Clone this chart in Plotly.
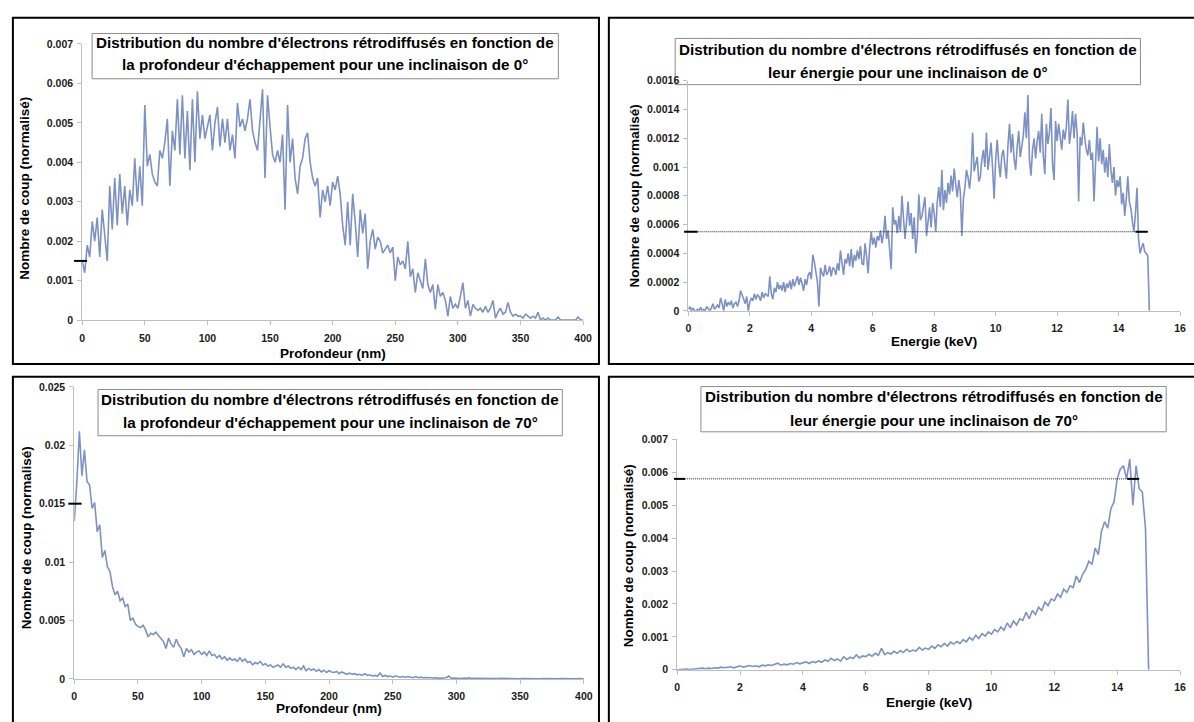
import numpy as np
import plotly.graph_objects as go

W, H = 1194, 722
FONT = "Liberation Sans, Arial, sans-serif"
LINE_COLOR = "#7d91c3"
AXIS_COLOR = "#bfbfbf"

# ---------------- DATA ----------------
# Panel 1 : depth distribution, tilt 0 deg  (x step 2 nm, values in 1e-3)
depth_step_nm = 2
depth0_milli = [
    1.5, 1.2, 1.9, 1.6, 2.5, 2.0, 2.6, 1.6, 2.8, 2.1,
    1.5, 3.4, 2.3, 3.6, 2.4, 3.7, 2.7, 3.4, 2.4, 3.3,
    2.9, 4.1, 3.0, 3.9, 2.9, 5.45, 3.9, 4.2, 3.7, 3.5,
    3.4, 4.3, 4.1, 4.5, 5.1, 3.4, 4.8, 4.3, 5.6, 4.2,
    5.7, 4.1, 5.3, 3.8, 5.6, 4.0, 5.8, 4.6, 5.2, 4.6,
    4.9, 5.2, 4.3, 5.0, 5.4, 4.4, 5.1, 4.5, 5.1, 4.3,
    4.7, 4.1, 5.5, 4.9, 5.1, 4.8, 5.1, 5.6, 4.8, 4.5,
    4.3, 5.0, 5.85, 3.6, 5.7, 4.9, 4.2, 4.0, 4.3, 4.0,
    4.7, 2.8, 5.45, 4.0, 4.6, 3.6, 3.2, 3.9, 4.1, 4.6,
    4.75, 4.0, 3.6, 3.4, 3.6, 2.6, 3.3, 3.0, 3.4, 2.9,
    3.5, 3.3, 3.65, 3.2, 2.4,
    1.9, 3.0, 1.9, 3.2, 2.5, 1.6, 2.8, 2.2, 2.7, 1.3,
    2.0, 2.3, 1.8, 2.1, 2.0, 1.7, 1.8, 1.9, 1.7, 1.85,
    1.0, 1.6, 1.4, 1.5, 1.3, 2.0, 1.1, 1.3, 0.7, 1.2,
    1.0, 0.8, 1.55, 0.9, 0.7, 0.9, 0.27, 0.9, 0.6, 0.7,
    0.5, 0.1, 0.6, 0.3, 0.4, 0.3, 0.6, 0.95, 0.3, 0.5,
    0.1, 0.4, 0.3, 0.25, 0.3, 0.2, 0.35, 0.2, 0.3, 0.5,
    0.05, 0.2, 0.3, 0.15, 0.2, 0.45, 0.2, 0.1, 0.15, 0.1,
    0.1, 0.05, 0.15, 0.1, 0.05, 0.1, 0.05, 0.2, 0.0, 0.05,
    0.0, 0.05, 0.0, 0.0, 0.0, 0.08, 0.0, 0.0, 0.0, 0.0,
    0.0, 0.0, 0.0, 0.08, 0.0, 0.0,
]

# Panel 3 : depth distribution, tilt 70 deg (x step 2 nm, values in 1e-3)
depth70_milli = [
    13.5, 16.8, 21.2, 17.4, 19.6, 16.9, 16.6, 14.6, 15.1, 12.6,
    13.2, 10.4, 11.0, 9.6, 9.2, 7.9, 7.2, 7.5, 6.7, 6.9,
    6.2, 6.4, 5.0, 5.2, 4.7, 4.5, 4.4, 4.6, 4.2, 3.6,
    3.9, 3.8, 4.0, 3.7, 3.4, 3.2, 2.6, 3.5, 3.0, 2.7,
    3.4, 2.9, 2.6, 1.9, 2.6, 2.3, 2.5, 2.1, 2.3, 2.4,
    2.1, 2.3, 2.0, 2.4, 2.0, 2.1, 1.8, 2.0, 1.7, 1.9,
    1.6, 1.8, 1.6, 1.7, 1.5, 1.8, 1.5, 1.7, 1.4, 1.5,
    1.2, 1.4, 1.3, 1.5, 1.2, 1.3, 1.1, 1.2, 1.0, 1.1,
    1.2, 1.0, 1.3, 1.0, 1.1, 0.9, 1.0, 0.8, 1.0, 0.8,
    1.1, 0.7, 0.9, 0.75, 0.85, 0.65, 0.8, 0.6, 0.75, 0.55,
    0.7, 0.6, 0.55, 0.65, 0.45, 0.6, 0.5, 0.4, 0.5, 0.4,
    0.45, 0.35, 0.4, 0.3, 0.45, 0.3, 0.35, 0.25, 0.3, 0.25,
    0.5, 0.2, 0.3, 0.2, 0.25, 0.15, 0.25, 0.2, 0.15, 0.2,
    0.15, 0.2, 0.15, 0.1, 0.2, 0.1, 0.15, 0.1, 0.12, 0.08,
    0.1, 0.08, 0.1, 0.05, 0.08, 0.05, 0.1, 0.25, 0.05, 0.08,
    0.05, 0.06, 0.04, 0.08, 0.05, 0.1, 0.04, 0.06, 0.05, 0.04,
    0.05, 0.04, 0.06, 0.03, 0.05, 0.04, 0.03, 0.05, 0.04, 0.03,
    0.04, 0.03, 0.05, 0.03, 0.04, 0.02, 0.04, 0.03, 0.02, 0.03,
    0.03, 0.02, 0.04, 0.02, 0.03, 0.02, 0.03, 0.02, 0.02, 0.03,
    0.02, 0.03, 0.02, 0.02, 0.03, 0.02, 0.02, 0.02, 0.03, 0.02, 0.02,
]

# Panel 2 : energy distribution, tilt 0 deg (step 0.05 keV, values in 1e-4)
energy0_step_kev = 0.05
energy0_e4 = [
    0.1, 0.3, 0.0, 0.2, 0.0, 0.0, 0.1, 0.0, 0.25, 0.0, 0.1, 0.0, 0.3, 0.1, 0.0, 0.2, 0.5, 0.1, 0.3, 0.4,
    0.2, 0.9, 0.5, 0.0, 0.8, 0.3, 0.6, 0.4, 0.7, 0.2, 0.5, 0.6, 0.3, 0.7, 1.4, 1.0, 0.8, 0.5, 1.0, 0.0,
    0.6, 0.9, 0.7, 1.2, 0.8, 1.1, 1.0, 0.7, 1.3, 0.9, 1.2, 1.1, 1.0, 2.4, 1.2, 0.8, 1.6, 1.3, 2.0, 1.5,
    1.8, 1.4, 2.0, 1.3, 1.9, 1.6, 2.1, 1.5, 2.2, 1.7, 2.0, 2.4, 1.8, 2.3, 1.9, 1.4, 2.2, 1.8, 2.5, 2.7,
    2.2, 3.9, 3.4, 2.8, 2.0, 0.3, 3.0, 2.6, 2.4, 3.2, 2.5, 2.7, 3.1, 2.4, 3.0, 2.9, 2.5, 3.3, 2.8, 4.2,
    3.4, 2.5, 3.6, 3.3, 4.0, 3.1, 4.3, 3.0, 3.9, 3.5, 4.2, 3.6, 4.5, 3.3, 3.2, 4.7, 3.8, 2.6, 4.4, 5.5,
    4.6, 5.1, 4.4, 5.2, 4.9, 5.6, 4.7, 5.3, 6.6, 5.0, 5.6, 4.4, 2.9, 7.2, 6.0, 6.3, 5.4, 6.6, 5.5, 8.0,
    6.4, 5.0, 6.2, 7.6, 5.9, 6.8, 5.0, 6.5, 4.0, 5.2, 8.1, 6.3, 6.6, 7.2, 7.9, 5.2, 6.4, 7.2, 5.8, 7.5,
    6.8, 5.5, 7.6, 8.6, 7.2, 9.8, 7.0, 8.4, 7.5, 8.9, 8.1, 9.4, 8.3, 9.9, 8.8, 7.9, 9.1, 8.3, 5.2, 7.8,
    8.6, 9.8, 9.3, 8.5, 9.6, 12.4, 9.7, 10.2, 10.7, 9.0, 9.3, 10.5, 11.2, 10.0, 12.4, 9.8, 10.6, 11.7, 9.9, 7.8,
    10.5, 11.9, 10.3, 9.3, 10.8, 11.2, 10.1, 9.2, 11.5, 13.0, 11.0, 12.3, 10.6, 9.8, 11.4, 12.5, 10.7, 11.6, 12.2, 13.8,
    12.0, 15.0, 10.5, 9.4, 11.2, 12.0, 10.6, 11.8, 12.5, 11.0, 13.7, 10.8, 9.5, 13.0, 11.6, 12.4, 14.1, 10.2, 9.1, 13.2,
    11.8, 13.0, 12.2, 11.2, 12.6, 11.9, 12.8, 14.7, 11.6, 12.5, 13.9, 12.0, 13.7, 12.4, 7.6, 12.1, 11.5, 13.1, 12.0, 11.2,
    10.8, 11.9, 10.5, 11.0, 7.6, 9.8, 12.8, 10.4, 12.0, 10.2, 11.2, 9.6, 10.7, 9.3, 11.6, 9.8, 8.9, 10.0, 8.0, 9.1,
    8.6, 9.35, 7.4, 8.2, 6.6, 7.8, 9.35, 7.6, 7.1, 6.2, 5.5, 6.8, 8.55, 5.0, 4.0, 4.4, 4.7, 4.1, 4.0, 3.8,
    0.0,
]

# Panel 4 : energy distribution, tilt 70 deg (step 0.1 keV, values in 1e-3)
energy70_step_kev = 0.1
energy70_milli = [
    0.0, 0.01, 0.0, 0.02, 0.01, 0.02, 0.01, 0.03, 0.05, 0.03,
    0.05, 0.04, 0.06, 0.05, 0.08, 0.06, 0.07, 0.09, 0.06, 0.1,
    0.12, 0.08, 0.1, 0.13, 0.1, 0.12, 0.09, 0.14, 0.12, 0.15,
    0.13, 0.16, 0.2, 0.14, 0.17, 0.15, 0.19, 0.17, 0.22, 0.18,
    0.2, 0.24, 0.19, 0.25, 0.22, 0.27, 0.23, 0.3, 0.26, 0.35,
    0.28, 0.33, 0.26, 0.4, 0.31, 0.38, 0.34, 0.45, 0.36, 0.42,
    0.4, 0.47, 0.41, 0.5, 0.44, 0.65, 0.46, 0.52, 0.48, 0.56,
    0.5, 0.58, 0.53, 0.62, 0.55, 0.6, 0.57, 0.68, 0.6, 0.66,
    0.62, 0.72, 0.65, 0.76, 0.7, 0.8, 0.72, 0.84, 0.78, 0.86,
    0.8, 0.92, 0.85, 0.98, 0.9, 1.05, 0.95, 1.1, 1.02, 1.15,
    1.08, 1.22, 1.15, 1.3, 1.2, 1.42, 1.28, 1.48, 1.36, 1.55,
    1.5, 1.75, 1.55, 1.8, 1.68, 1.9, 1.8, 2.05, 1.95, 2.15,
    2.1, 2.3, 2.2, 2.45, 2.35, 2.55, 2.5, 2.85, 2.65, 2.9,
    3.05, 3.3, 3.2, 3.7, 3.5, 4.2, 4.5, 4.3, 4.9, 5.1,
    5.8, 6.1, 6.2, 5.8, 6.4, 5.0, 6.2, 5.5, 5.4, 4.3,
    0.0,
]

# reference levels marked on the charts
p1_mark_level = 0.0015
p3_mark_level = 0.015
p2_level = 0.00055
p4_level = 0.0058
p2_level_end_kev = 14.95
p4_level_end_kev = 14.7

# ticks
depth_ticks = [0, 50, 100, 150, 200, 250, 300, 350, 400]
energy_ticks = [0, 2, 4, 6, 8, 10, 12, 14, 16]
p1_yticks = [0, 0.001, 0.002, 0.003, 0.004, 0.005, 0.006, 0.007]
p1_ylabels = ["0", "0.001", "0.002", "0.003", "0.004", "0.005", "0.006", "0.007"]
p2_yticks = [0, 0.0002, 0.0004, 0.0006, 0.0008, 0.001, 0.0012, 0.0014, 0.0016]
p2_ylabels = ["0", "0.0002", "0.0004", "0.0006", "0.0008", "0.001", "0.0012", "0.0014", "0.0016"]
p3_yticks = [0, 0.005, 0.01, 0.015, 0.02, 0.025]
p3_ylabels = ["0", "0.005", "0.01", "0.015", "0.02", "0.025"]
p4_yticks = p1_yticks
p4_ylabels = p1_ylabels

titles = [
    ("Distribution du nombre d'électrons rétrodiffusés en fonction de",
     "la profondeur d'échappement pour une inclinaison de 0°"),
    ("Distribution du nombre d'électrons rétrodiffusés en fonction de",
     "leur énergie pour une inclinaison de 0°"),
    ("Distribution du nombre d'électrons rétrodiffusés en fonction de",
     "la profondeur d'échappement pour une inclinaison de 70°"),
    ("Distribution du nombre d'électrons rétrodiffusés en fonction de",
     "leur énergie pour une inclinaison de 70°"),
]
xtitles = ["Profondeur (nm)", "Energie (keV)", "Profondeur (nm)", "Energie (keV)"]
ytitle = "Nombre de coup (normalisé)"

assert len(depth0_milli) == 201, len(depth0_milli)
assert len(depth70_milli) == 201, len(depth70_milli)
assert len(energy0_e4) == 301, len(energy0_e4)
assert len(energy70_milli) == 151, len(energy70_milli)

depth_x = np.arange(len(depth0_milli)) * depth_step_nm
depth70_x = np.arange(len(depth70_milli)) * depth_step_nm
e0_x = np.round(np.arange(len(energy0_e4)) * energy0_step_kev, 3)
e70_x = np.round(np.arange(len(energy70_milli)) * energy70_step_kev, 3)
y1 = np.array(depth0_milli) * 1e-3
y3 = np.array(depth70_milli) * 1e-3
y2 = np.array(energy0_e4) * 1e-4
y4 = np.array(energy70_milli) * 1e-3

# ---------------- LAYOUT GEOMETRY (pixels) ----------------
def dx(a, b):
    return [a / W, b / W]

def dy(top, bottom):
    return [1 - bottom / H, 1 - top / H]

panels = [
    dict(xd=(80, 586), yd=(38.6, 319.4), xr=[0, 400], yr=[0, 0.007],
         yt=p1_yticks, yl=p1_ylabels, xt=depth_ticks, xso=4),
    dict(xd=(692.3, 1189), yd=(76, 310), xr=[0, 16], yr=[0, 0.0016],
         yt=p2_yticks, yl=p2_ylabels, xt=energy_ticks, xso=4),
    dict(xd=(72, 586.7), yd=(387.3, 684.3), xr=[0, 400], yr=[0, 0.025],
         yt=p3_yticks, yl=p3_ylabels, xt=depth_ticks, xso=3),
    dict(xd=(681, 1189), yd=(440.7, 675), xr=[0, 16], yr=[0, 0.007],
         yt=p4_yticks, yl=p4_ylabels, xt=energy_ticks, xso=4),
]

fig = go.Figure()
series = [(depth_x, y1), (e0_x, y2), (depth70_x, y3), (e70_x, y4)]
for i, (xs, ys) in enumerate(series):
    sfx = "" if i == 0 else str(i + 1)
    fig.add_trace(go.Scatter(x=xs, y=ys, mode="lines",
                             line=dict(color=LINE_COLOR, width=1.6),
                             xaxis="x" + sfx, yaxis="y" + sfx,
                             showlegend=False, hoverinfo="x+y"))

tickfont = dict(family=FONT, size=10.5, color="#1a1a1a", weight="bold")
layout = dict(width=W, height=H, margin=dict(l=0, r=0, t=0, b=0),
              paper_bgcolor="white", plot_bgcolor="rgba(0,0,0,0)", showlegend=False)
for i, p in enumerate(panels):
    sfx = "" if i == 0 else str(i + 1)
    layout["xaxis" + sfx] = dict(
        domain=dx(*p["xd"]), range=p["xr"], anchor="y" + sfx,
        tickvals=p["xt"], ticktext=[str(v) for v in p["xt"]],
        showline=True, linecolor=AXIS_COLOR, linewidth=1,
        ticks="outside", ticklen=4, tickcolor=AXIS_COLOR,
        showgrid=False, zeroline=False, tickfont=tickfont,
        ticklabelstandoff=p["xso"])
    layout["yaxis" + sfx] = dict(
        domain=dy(*p["yd"]), range=p["yr"], anchor="x" + sfx,
        tickvals=p["yt"], ticktext=p["yl"],
        showline=True, linecolor=AXIS_COLOR, linewidth=1,
        ticks="outside", ticklen=4, tickcolor=AXIS_COLOR,
        showgrid=False, zeroline=False, tickfont=tickfont,
        ticklabelstandoff=2)
fig.update_layout(**layout)

def px_x(v):
    return v / W

def px_y(v):
    return 1 - v / H

def data_to_paper(i, xv, yv):
    p = panels[i]
    (xa, xb), (yt, yb) = p["xd"], p["yd"]
    px = xa + (xv - p["xr"][0]) / (p["xr"][1] - p["xr"][0]) * (xb - xa)
    py = yb - (yv - p["yr"][0]) / (p["yr"][1] - p["yr"][0]) * (yb - yt)
    return px_x(px), px_y(py)

shapes = []
# title boxes (below traces and tick labels)
title_boxes = [(90, 28, 561, 74), (679, 33, 1149, 80), (96, 390, 565, 437), (705, 387, 1175, 433)]
for (x0, y0, x1, y1b) in title_boxes:
    shapes.append(dict(type="rect", xref="paper", yref="paper",
                       x0=px_x(x0), x1=px_x(x1), y0=px_y(y0), y1=px_y(y1b),
                       line=dict(color="#8c8c8c", width=1), fillcolor="white",
                       layer="below"))
# outer chart borders
for (x0, y0, x1, y1b) in [(10, 12, 602, 364), (612, 12, 1205, 364),
                          (10, 377, 602, 735), (612, 377, 1205, 735)]:
    shapes.append(dict(type="rect", xref="paper", yref="paper",
                       x0=px_x(x0), x1=px_x(x1), y0=px_y(y0), y1=px_y(y1b),
                       line=dict(color="black", width=2), fillcolor="rgba(0,0,0,0)",
                       layer="above"))
# dotted reference lines
shapes.append(dict(type="line", xref="x2", yref="y2", x0=0, x1=p2_level_end_kev,
                   y0=p2_level, y1=p2_level, line=dict(color="#222222", width=1, dash="1px,1px"),
                   layer="above"))
shapes.append(dict(type="line", xref="x4", yref="y4", x0=0, x1=p4_level_end_kev,
                   y0=p4_level, y1=p4_level, line=dict(color="#222222", width=1, dash="1px,1px"),
                   layer="above"))
# black markers
markers = [(0, -6.5, 3.9, p1_mark_level), (2, -4.7, 5.7, p3_mark_level),
           (1, -0.14, 0.3, p2_level), (1, 14.55, p2_level_end_kev, p2_level),
           (3, -0.1, 0.25, p4_level), (3, 14.32, p4_level_end_kev, p4_level)]
for (i, xa, xb, yv) in markers:
    ax, ay = data_to_paper(i, xa, yv)
    bx, _ = data_to_paper(i, xb, yv)
    shapes.append(dict(type="line", xref="paper", yref="paper", x0=ax, x1=bx, y0=ay, y1=ay,
                       line=dict(color="black", width=2), layer="above"))

annotations = []
title_font = dict(family=FONT, size=15.2, color="black", weight="bold")
title_pos = [(325.5, 37, 59.5), (914, 44, 68), (330.5, 400, 423.5), (940, 397.5, 421)]
for (l1, l2), (cx, c1, c2) in zip(titles, title_pos):
    for txt, cy in ((l1, c1), (l2, c2)):
        annotations.append(dict(text=txt, xref="paper", yref="paper", x=px_x(cx), y=px_y(cy),
                                xanchor="center", yanchor="middle", showarrow=False,
                                font=title_font))
axis_font = dict(family=FONT, size=13.5, color="black", weight="bold")
ytitle_font = dict(family=FONT, size=13.5, color="black", weight="bold")
xtitle_pos = [(333, 353.5), (940.5, 341), (329, 714), (935, 708)]
ytitle_pos = [(21.5, 185.5), (638, 193), (23.5, 541), (632, 559)]
for t, (cx, cy) in zip(xtitles, xtitle_pos):
    annotations.append(dict(text=t, xref="paper", yref="paper", x=px_x(cx), y=px_y(cy),
                            xanchor="center", yanchor="middle", showarrow=False, font=axis_font))
for (cx, cy) in ytitle_pos:
    annotations.append(dict(text=ytitle, xref="paper", yref="paper", x=px_x(cx), y=px_y(cy),
                            xanchor="center", yanchor="middle", showarrow=False,
                            textangle=-90, font=ytitle_font))

fig.update_layout(shapes=shapes, annotations=annotations)
fig.write_html("out.html", config={"displayModeBar": False},
               post_script="document.body.style.margin='0';document.body.style.overflow='hidden';")
